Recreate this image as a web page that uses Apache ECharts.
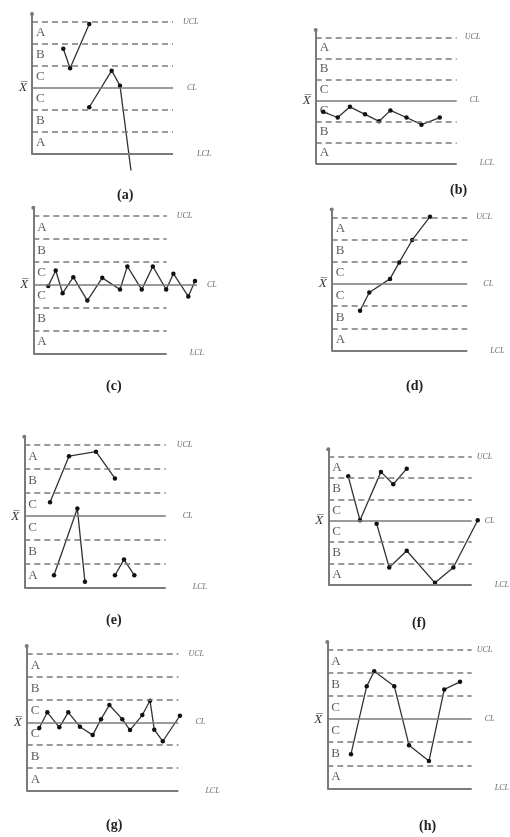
<!DOCTYPE html>
<html>
<head>
<meta charset="utf-8">
<script src="https://cdn.jsdelivr.net/npm/echarts@6/dist/echarts.min.js"></script>
<style>html,body{margin:0;padding:0;background:#fff;}#c{width:510px;height:837px;}</style>
</head>
<body>
<div id="c"></div>
<script>
// ---- data (x in sample units along the chart, y in sigma units from CL) ----
const captions = ['(a)','(b)','(c)','(d)','(e)','(f)','(g)','(h)'];
const zoneLetters = ['A','B','C','C','B','A'];
const zoneCenters = [2.5,1.5,0.5,-0.5,-1.5,-2.5];
const limitNames = ['UCL','CL','LCL'];
const limitValues = [3,0,-3];
const zoneBounds = [2,1,-1,-2];

const aSeg1 = [[2.22,1.77],[2.70,0.89],[4.06,2.90]];
const aSeg2 = [[4.06,-0.88],[5.65,0.78],[6.24,0.10]];
const aTail = [[6.24,0.10],[7.02,-3.75]];
const bPts = [[0.54,-0.55],[1.56,-0.82],[2.43,-0.31],[3.50,-0.67],[4.50,-1.00],[5.30,-0.48],[6.44,-0.82],[7.50,-1.16],[8.80,-0.82]];
const cPts = [[1.12,-0.07],[1.68,0.61],[2.20,-0.38],[3.00,0.32],[4.05,-0.70],[5.17,0.29],[6.50,-0.22],[7.05,0.79],[8.13,-0.22],[8.96,0.79],[9.96,-0.22],[10.50,0.47],[11.62,-0.52],[12.12,0.15]];
const dPts = [[2.09,-1.20],[2.77,-0.38],[4.30,0.23],[4.98,0.97],[5.94,1.98],[7.25,3.03]];
const eSeg1 = [[1.82,0.59],[3.16,2.53],[5.07,2.72],[6.41,1.59]];
const eSeg2 = [[2.10,-2.49],[3.75,0.32],[4.29,-2.77]];
const eSeg3 = [[6.41,-2.49],[7.05,-1.83],[7.78,-2.49]];
const fSeg1 = [[1.39,2.08],[2.21,0.03],[3.67,2.29],[4.53,1.71],[5.47,2.44]];
const fSeg2 = [[3.37,-0.13],[4.25,-2.18],[5.47,-1.40],[7.44,-2.90],[8.72,-2.18],[10.42,0.03]];
const gPts = [[0.83,-0.25],[1.36,0.44],[2.15,-0.22],[2.74,0.44],[3.51,-0.19],[4.35,-0.56],[4.90,0.14],[5.45,0.76],[6.30,0.14],[6.81,-0.34],[7.62,0.32],[8.13,0.95],[8.41,-0.32],[8.97,-0.83],[10.10,0.29]];
const hPts = [[1.64,-1.52],[2.73,1.43],[3.25,2.08],[4.64,1.43],[5.66,-1.13],[7.04,-1.82],[8.10,1.29],[9.19,1.62]];

const panelSeries = [[aSeg1,aSeg2],[bPts],[cPts],[dPts],[eSeg1,eSeg2,eSeg3],[fSeg1,fSeg2],[gPts],[hPts]];
const panelTails = [[aTail],[],[],[],[],[],[],[]];
const clEnds = [10,10,12.27,10,10,10,10,10];
const xMaxes = [13,11,13,11,13,11,13,11];

// ---- layout (pixels) ----
const layout = [
  {x:32,   ucl:21.7,  lcl:154,   w:141,   off:[10,14,24], cap:[123,192]},
  {x:315.7,ucl:37.3,  lcl:163.3, w:141,   off:[8,13,23],  cap:[456,187]},
  {x:33.3, ucl:215.7, lcl:353.3, w:133.4, off:[10,10,23], cap:[112,383]},
  {x:331.7,ucl:217.3, lcl:350.7, w:135.6, off:[9,16,23],  cap:[412,383]},
  {x:24.3, ucl:445,   lcl:587.3, w:141.4, off:[11,17,27], cap:[112,617]},
  {x:328.3,ucl:456.7, lcl:585,   w:143.4, off:[5,13,23],  cap:[418,620]},
  {x:26.7, ucl:654,   lcl:790.7, w:151.7, off:[10,17,27], cap:[112,822]},
  {x:327.3,ucl:650,   lcl:788.3, w:144.4, off:[5,13,23],  cap:[425,823]}
];

const YMAX = 3.35;
const XLINE = 10;   // end of zone lines, in x units
const grid=[], xAxis=[], yAxis=[], series=[], title=[];
const gray = '#7a7a7a';
const serif = 'Liberation Serif';

layout.forEach((L,i)=>{
  const sigma = (L.lcl - L.ucl)/6;
  const top = L.ucl - (YMAX-3)*sigma;
  const xmax = xMaxes[i];
  grid.push({left:L.x, top:top, width:L.w*xmax/XLINE, height:L.lcl-top});
  xAxis.push({gridIndex:i, type:'value', min:0, max:xmax, show:false});
  yAxis.push({gridIndex:i, type:'value', min:-3, max:YMAX, interval:1,
    axisLine:{show:true, onZero:false, symbol:['none','circle'], symbolSize:[4,4], lineStyle:{color:gray, width:2}},
    axisTick:{show:false}, splitLine:{show:false},
    axisLabel:{show:true, margin:5, showMaxLabel:false, showMinLabel:false,
      formatter:v=> v===0 ? 'X\u0305' : '',
      fontFamily:serif, fontStyle:'italic', fontSize:13, color:'#333'}
  });
  const ml = [];
  limitValues.forEach((v,k)=>{
    const end = (k===1) ? clEnds[i] : XLINE;
    ml.push([{coord:[0,v], lineStyle:{type:(k===0?[6,4]:'solid'), color:gray, width:(k===2?2:1.5)},
      label:{show:true, position:'end', distance:L.off[k], formatter:limitNames[k],
        fontFamily:serif, fontStyle:'italic', fontSize:8, color:'#666'}}, {coord:[end,v]}]);
  });
  zoneBounds.forEach(v=>{
    ml.push([{coord:[0,v], lineStyle:{type:[6,4], color:gray, width:1.5}, label:{show:false}}, {coord:[XLINE,v]}]);
  });
  series.push({type:'scatter', xAxisIndex:i, yAxisIndex:i, symbolSize:0, silent:true, clip:false, z:1,
    data: zoneCenters.map((c,k)=>({value:[0,c], label:{formatter:zoneLetters[k]}})),
    label:{show:true, position:'right', distance:4, fontFamily:serif, fontSize:13, color:'#333'},
    markLine:{silent:true, symbol:['none','none'], animation:false, data:ml}
  });
  panelSeries[i].forEach(seg=>{
    series.push({type:'line', xAxisIndex:i, yAxisIndex:i, data:seg, clip:false, z:3,
      symbol:'circle', symbolSize:4.5, showSymbol:true,
      itemStyle:{color:'#111'}, lineStyle:{color:'#333', width:1.3}, animation:false});
  });
  panelTails[i].forEach(seg=>{
    series.push({type:'line', xAxisIndex:i, yAxisIndex:i, data:seg, clip:false, z:3,
      symbol:'none', lineStyle:{color:'#333', width:1.3}, animation:false});
  });
  title.push({text:captions[i], left:L.cap[0]-11, top:L.cap[1]-9,
    textStyle:{fontFamily:serif, fontWeight:'bold', fontSize:14, color:'#222'}});
});

const chart = echarts.init(document.getElementById('c'), null, {renderer:'canvas'});
chart.setOption({animation:false, title, grid, xAxis, yAxis, series});
</script>
</body>
</html>
